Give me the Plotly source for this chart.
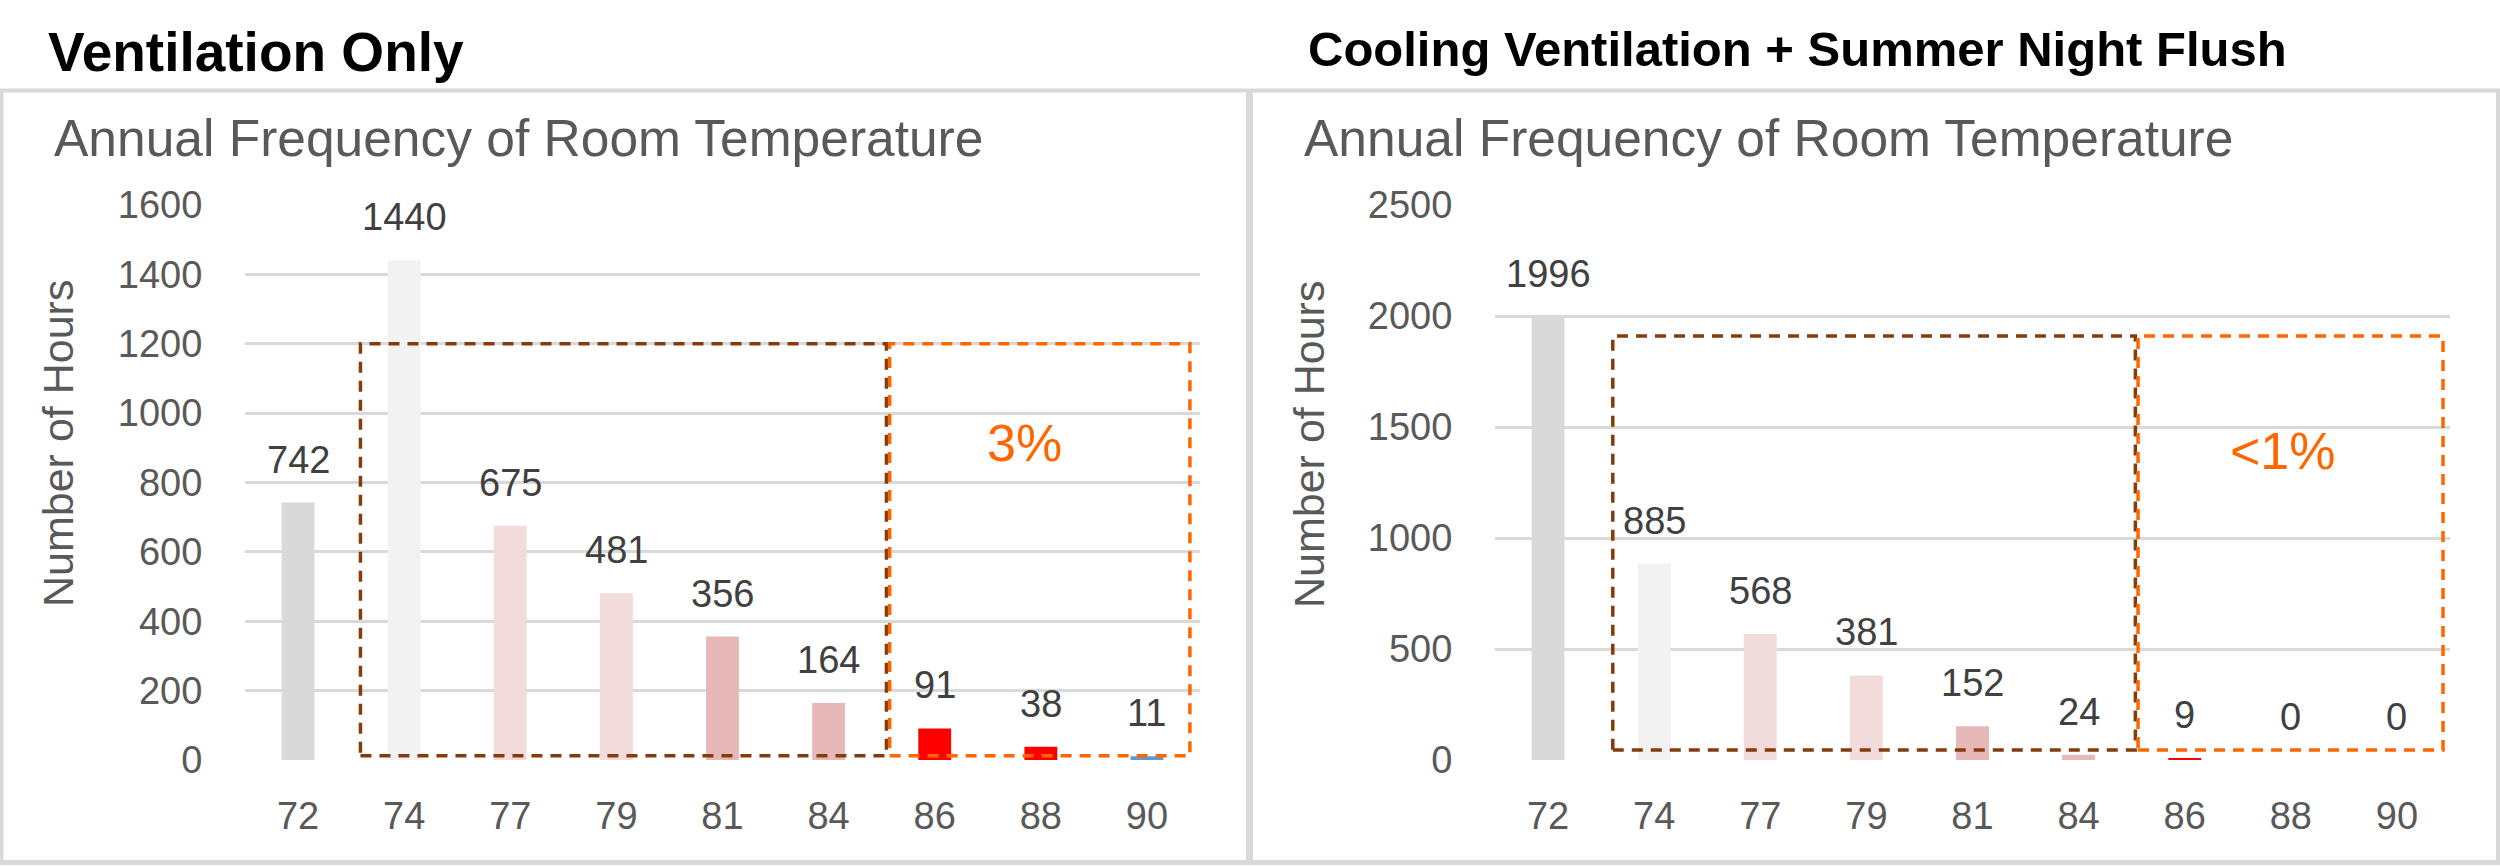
import plotly.graph_objects as go

# ---------------- data ----------------
temps = ["72", "74", "77", "79", "81", "84", "86", "88", "90"]
hours_vent_only = [742, 1440, 675, 481, 356, 164, 91, 38, 11]
hours_cool_flush = [1996, 885, 568, 381, 152, 24, 9, 0, 0]
bar_colors = ["#D9D9D9", "#F2F2F2", "#F2DCDB", "#F2DCDB", "#E6B9B8",
              "#E6B9B8", "#FF0000", "#FF0000", "#5B9BD5"]
panel_titles = ["Ventilation Only", "Cooling Ventilation + Summer Night Flush"]
chart_title = "Annual Frequency of Room Temperature"
y_title = "Number of Hours"
left_yticks = [0, 200, 400, 600, 800, 1000, 1200, 1400, 1600]
right_yticks = [0, 500, 1000, 1500, 2000, 2500]
pct_labels = ["3%", "<1%"]

W, H = 2500, 866
FONT = "Liberation Sans, Arial, sans-serif"
GRAY_TXT = "#595959"
LABEL_TXT = "#404040"
BROWN = "#843C0C"
ORANGE = "#FF6600"
GRID = "#D9D9D9"


def px(x):
    return x / W


def py(y):
    return 1 - y / H


fig = go.Figure()
fig.add_trace(go.Bar(x=temps, y=hours_vent_only, marker_color=bar_colors,
                     marker_line_width=0, xaxis="x", yaxis="y",
                     showlegend=False, hoverinfo="x+y"))
fig.add_trace(go.Bar(x=temps, y=hours_cool_flush, marker_color=bar_colors,
                     marker_line_width=0, xaxis="x2", yaxis="y2",
                     showlegend=False, hoverinfo="x+y"))

ydom = [py(760), py(205)]
common_x = dict(type="category", range=[-0.5, 8.5], showgrid=False,
                zeroline=False, showline=False, ticks="outside", ticklen=22,
                tickcolor="rgba(0,0,0,0)", automargin=False,
                tickfont=dict(family=FONT, size=38, color=GRAY_TXT))
common_y = dict(showgrid=True, gridcolor=GRID, gridwidth=3, zeroline=False,
                showline=False, ticks="outside", ticklen=34,
                tickcolor="rgba(0,0,0,0)", automargin=False,
                tickfont=dict(family=FONT, size=38, color=GRAY_TXT))

fig.update_layout(
    width=W, height=H,
    margin=dict(l=0, r=0, t=0, b=0, pad=0, autoexpand=False),
    paper_bgcolor="white", plot_bgcolor="white",
    bargap=0.69,
    xaxis=dict(domain=[px(245), px(1200)], anchor="y", **common_x),
    yaxis=dict(domain=ydom, anchor="x", range=[0, 1600],
               tickvals=left_yticks, **common_y),
    xaxis2=dict(domain=[px(1495), px(2450)], anchor="y2", **common_x),
    yaxis2=dict(domain=ydom, anchor="x2", range=[0, 2500],
                tickvals=right_yticks, **common_y),
)

annotations = []
# data labels (x given as category index)
for xa, ya, vals in (("x", "y", hours_vent_only), ("x2", "y2", hours_cool_flush)):
    for i, v in enumerate(vals):
        annotations.append(dict(x=i, y=v, xref=xa, yref=ya, text=str(v),
                                showarrow=False, yanchor="middle", yshift=43,
                                font=dict(family=FONT, size=38, color=LABEL_TXT)))

# panel titles
annotations.append(dict(x=px(46), y=py(52), xref="paper", yref="paper",
                        text="<b>%s</b>" % panel_titles[0], showarrow=False,
                        xanchor="left", yanchor="middle",
                        font=dict(family=FONT, size=55, color="black")))
annotations.append(dict(x=px(1306), y=py(49), xref="paper", yref="paper",
                        text="<b>%s</b>" % panel_titles[1], showarrow=False,
                        xanchor="left", yanchor="middle",
                        font=dict(family=FONT, size=49, color="black")))
# chart titles
for x0 in (52, 1302):
    annotations.append(dict(x=px(x0), y=py(138), xref="paper", yref="paper",
                            text=chart_title, showarrow=False,
                            xanchor="left", yanchor="middle",
                            font=dict(family=FONT, size=51.5, color=GRAY_TXT)))
# y axis titles
for xc in (58, 1309):
    annotations.append(dict(x=px(xc), y=py(444), xref="paper", yref="paper",
                            text=y_title, showarrow=False, textangle=-90,
                            xanchor="center", yanchor="middle",
                            font=dict(family=FONT, size=43, color=GRAY_TXT)))
# percentage labels
annotations.append(dict(x=6.85, y=913, xref="x", yref="y", text=pct_labels[0],
                        showarrow=False, font=dict(family=FONT, size=52, color=ORANGE)))
annotations.append(dict(x=6.93, y=1392, xref="x2", yref="y2", text=pct_labels[1],
                        showarrow=False, font=dict(family=FONT, size=52, color=ORANGE)))
fig.update_layout(annotations=annotations)

shapes = []
dash = "11px,8px"
# dashed boxes, left panel
shapes.append(dict(type="rect", xref="x", yref="y", x0=0.588, x1=5.545, y0=12, y1=1200,
                   line=dict(color=BROWN, width=3.5, dash=dash), layer="above"))
shapes.append(dict(type="rect", xref="x", yref="y", x0=5.575, x1=8.405, y0=12, y1=1200,
                   line=dict(color=ORANGE, width=3.5, dash=dash), layer="above"))
# dashed boxes, right panel
shapes.append(dict(type="rect", xref="x2", yref="y2", x0=0.61, x1=5.535, y0=45, y1=1910,
                   line=dict(color=BROWN, width=3.5, dash=dash), layer="above"))
shapes.append(dict(type="rect", xref="x2", yref="y2", x0=5.56, x1=8.434, y0=45, y1=1910,
                   line=dict(color=ORANGE, width=3.5, dash=dash), layer="above"))
# panel borders
shapes.append(dict(type="line", xref="paper", yref="paper", x0=0, x1=1, y0=py(90.5), y1=py(90.5),
                   line=dict(color=GRID, width=4)))
shapes.append(dict(type="line", xref="paper", yref="paper", x0=px(1.5), x1=px(1.5), y0=py(90), y1=py(864),
                   line=dict(color=GRID, width=4)))
shapes.append(dict(type="line", xref="paper", yref="paper", x0=px(1249.5), x1=px(1249.5), y0=py(90), y1=py(864),
                   line=dict(color=GRID, width=7)))
shapes.append(dict(type="line", xref="paper", yref="paper", x0=px(2498), x1=px(2498), y0=py(90), y1=py(864),
                   line=dict(color=GRID, width=4)))
shapes.append(dict(type="line", xref="paper", yref="paper", x0=0, x1=1, y0=py(862.5), y1=py(862.5),
                   line=dict(color=GRID, width=5)))
fig.update_layout(shapes=shapes)

fig.write_html(
    "out.html",
    config={"displayModeBar": False},
    post_script="document.body.style.margin='0';"
                "document.documentElement.style.overflow='hidden';",
)
